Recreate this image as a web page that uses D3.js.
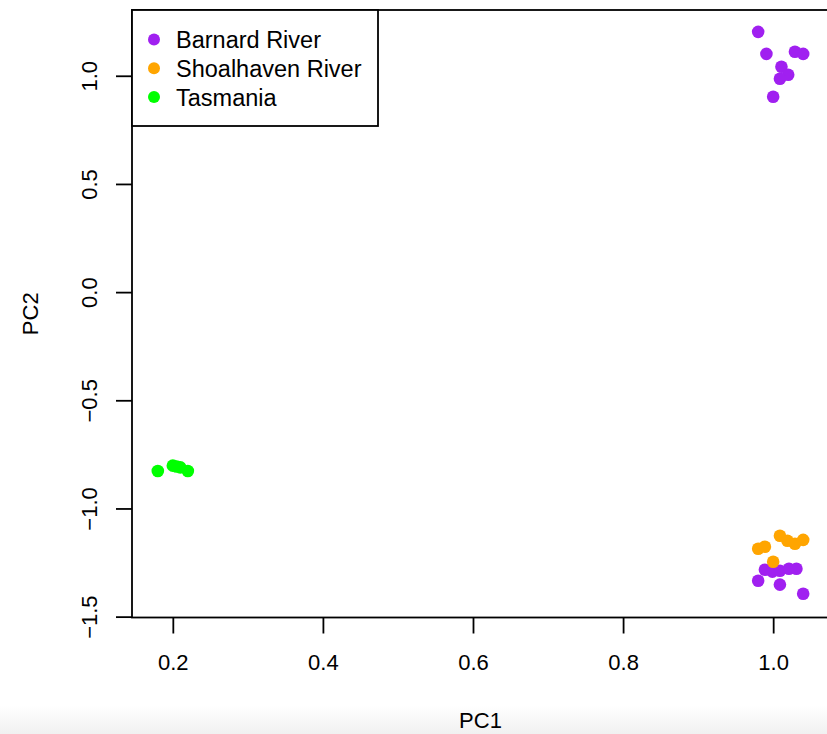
<!DOCTYPE html>
<html>
<head>
<meta charset="utf-8">
<script src="https://cdn.jsdelivr.net/npm/d3@7"></script>
<style>
  body { margin: 0; background: #fff; }
  svg { display: block; font-family: "Liberation Sans", Arial, Helvetica, sans-serif; }
</style>
</head>
<body>
<div id="chart"></div>
<script>
// data
const groups = ["Barnard River", "Shoalhaven River", "Tasmania"];
const groupColors = ["#A020F0", "#FFA500", "#00FF00"];

const barnardPC1 = [0.980, 0.991, 1.029, 1.040, 1.011, 1.020, 1.009, 1.000,
                    0.989, 0.999, 1.009, 1.021, 1.031, 0.980, 1.009, 1.040];
const barnardPC2 = [1.203, 1.101, 1.111, 1.101, 1.042, 1.005, 0.986, 0.903,
                    -1.283, -1.292, -1.288, -1.279, -1.279, -1.334, -1.352, -1.394];

const shoalPC1 = [0.980, 0.989, 1.009, 1.019, 1.029, 1.040, 1.000];
const shoalPC2 = [-1.186, -1.177, -1.126, -1.149, -1.163, -1.145, -1.246];

const tasPC1 = [0.180, 0.200, 0.205, 0.210, 0.220];
const tasPC2 = [-0.827, -0.802, -0.806, -0.810, -0.827];

const xTicks = [0.2, 0.4, 0.6, 0.8, 1.0];
const yTicks = [-1.5, -1.0, -0.5, 0.0, 0.5, 1.0];

////////////////////////////  Init  ///////////////////////////////
const width = 827;
const height = 734;
const plot = { left: 132, top: 10, right: 829, bottom: 617.5 };
const fontSize = 22;
const legendFont = 23.5;
const lineW = 1.8;

const svg = d3.select("#chart").append("svg")
  .attr("width", width)
  .attr("height", height);

// light grey fade at the very bottom of the picture
const grad = svg.append("defs").append("linearGradient")
  .attr("id", "fade").attr("x1", 0).attr("x2", 0).attr("y1", 0).attr("y2", 1);
grad.append("stop").attr("offset", "0%").attr("stop-color", "#fff");
grad.append("stop").attr("offset", "100%").attr("stop-color", "#f1f1f1");
svg.append("rect").attr("x", 0).attr("y", 706).attr("width", width).attr("height", 28)
  .attr("fill", "url(#fade)");

// scales (R style: data range + 4%)
const x = d3.scaleLinear().domain([0.1456, 1.0744]).range([plot.left, plot.right]);
const y = d3.scaleLinear().domain([-1.504, 1.304]).range([plot.bottom, plot.top]);

// points
const points = [];
barnardPC1.forEach((v, i) => points.push({ pc1: v, pc2: barnardPC2[i], g: 0 }));
shoalPC1.forEach((v, i) => points.push({ pc1: v, pc2: shoalPC2[i], g: 1 }));
tasPC1.forEach((v, i) => points.push({ pc1: v, pc2: tasPC2[i], g: 2 }));

svg.append("g")
  .selectAll("circle")
  .data(points)
  .join("circle")
  .attr("cx", (d) => x(d.pc1))
  .attr("cy", (d) => y(d.pc2))
  .attr("r", 6.3)
  .attr("fill", (d) => groupColors[d.g]);

// box
svg.append("rect")
  .attr("x", plot.left).attr("y", plot.top)
  .attr("width", plot.right - plot.left).attr("height", plot.bottom - plot.top)
  .attr("fill", "none").attr("stroke", "#000").attr("stroke-width", lineW);

// x axis
const xAxis = d3.axisBottom(x).tickValues(xTicks).tickFormat(d3.format(".1f"))
  .tickSize(16).tickSizeOuter(0);
const gx = svg.append("g")
  .attr("transform", `translate(0, ${plot.bottom})`)
  .call(xAxis);
gx.select(".domain").remove();
gx.selectAll("line").attr("stroke", "#000").attr("stroke-width", lineW);
gx.selectAll("text").attr("fill", "#000").style("font-size", fontSize + "px")
  .attr("dy", null).attr("y", 52);

// y axis
const yAxis = d3.axisLeft(y).tickValues(yTicks).tickFormat((d) => d3.format(".1f")(d).replace("-", "\u2212"))
  .tickSize(16).tickSizeOuter(0);
const gy = svg.append("g")
  .attr("transform", `translate(${plot.left}, 0)`)
  .call(yAxis);
gy.select(".domain").remove();
gy.selectAll("line").attr("stroke", "#000").attr("stroke-width", lineW);
gy.selectAll("text")
  .attr("fill", "#000").style("font-size", fontSize + "px")
  .attr("x", null).attr("dy", null)
  .attr("text-anchor", "middle")
  .attr("transform", "translate(-35, 0) rotate(-90)");

// axis titles
svg.append("text")
  .attr("x", (plot.left + plot.right) / 2).attr("y", 728)
  .attr("text-anchor", "middle").style("font-size", fontSize + "px")
  .text("PC1");
svg.append("text")
  .attr("transform", `translate(38, ${(plot.top + plot.bottom) / 2}) rotate(-90)`)
  .attr("text-anchor", "middle").style("font-size", fontSize + "px")
  .text("PC2");

// legend
const legend = svg.append("g");
legend.append("rect")
  .attr("x", plot.left).attr("y", plot.top)
  .attr("width", 246).attr("height", 116)
  .attr("fill", "#fff").attr("stroke", "#000").attr("stroke-width", lineW);
const items = legend.selectAll("g.item").data(groups).join("g")
  .attr("class", "item")
  .attr("transform", (d, i) => `translate(0, ${39.5 + i * 28.8})`);
items.append("circle").attr("cx", 154).attr("cy", 0).attr("r", 6)
  .attr("fill", (d, i) => groupColors[i]);
items.append("text").attr("x", 176).attr("y", 8.5)
  .style("font-size", legendFont + "px")
  .text((d) => d);
</script>
</body>
</html>
